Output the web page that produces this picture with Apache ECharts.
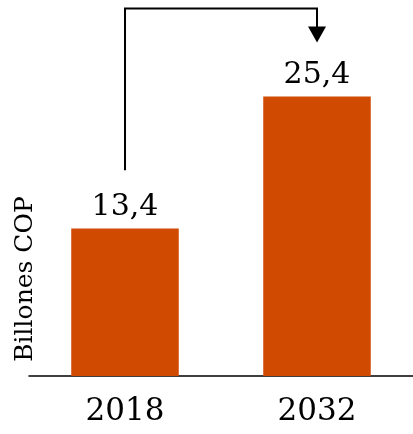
<!DOCTYPE html>
<html><head><meta charset="utf-8">
<script src="https://cdn.jsdelivr.net/npm/echarts@6/dist/echarts.min.js"></script>
<style>html,body{margin:0;padding:0;background:#fff}#c{width:413px;height:434px}</style>
</head><body><div id="c"></div>
<script>
const categories = ['2018', '2032'];
const values = [13.4, 25.4];
const axisName = 'Billones COP';
// bracket arrow (value units): from above 2018 up, across, down to 2032
const arrowStartY = 18.7;
const arrowTopY = 33.4;
const arrowEndY = 31.6;
const arrowHeadY = 31.05;

const chart = echarts.init(document.getElementById('c'));
const serif = '"DejaVu Serif", serif';
chart.setOption({
  animation: false,
  grid: {left: 29, right: -2, top: 2, bottom: 58},
  xAxis: {
    type: 'category', data: categories,
    axisLine: {lineStyle: {color: '#000', width: 1.5}},
    axisTick: {show: false},
    axisLabel: {color: '#000', fontFamily: serif, fontSize: 31, margin: 20}
  },
  yAxis: {type: 'value', min: 0, max: 34, show: false, splitLine: {show: false}},
  graphic: [{
    type: 'text', x: 25, y: 279, rotation: Math.PI / 2,
    style: {text: axisName, fill: '#000', font: '25px "DejaVu Serif"', align: 'center', verticalAlign: 'middle'}
  }],
  series: [{
    type: 'bar', data: values, barWidth: '56%',
    itemStyle: {color: '#D04A02'},
    label: {show: true, position: 'top', distance: 6, color: '#000', fontFamily: serif, fontSize: 30,
      formatter: p => String(p.value).replace('.', ',')}
  }, {
    type: 'lines', coordinateSystem: 'cartesian2d', polyline: true, clip: false,
    lineStyle: {color: '#000', width: 2, opacity: 1},
    data: [{coords: [[categories[0], arrowStartY], [categories[0], arrowTopY], [categories[1], arrowTopY], [categories[1], arrowEndY]]}]
  }, {
    type: 'scatter', clip: false, symbol: 'triangle', symbolRotate: 180, symbolSize: [18, 16],
    itemStyle: {color: '#000', opacity: 1},
    data: [[categories[1], arrowHeadY]]
  }]
});
</script></body></html>
